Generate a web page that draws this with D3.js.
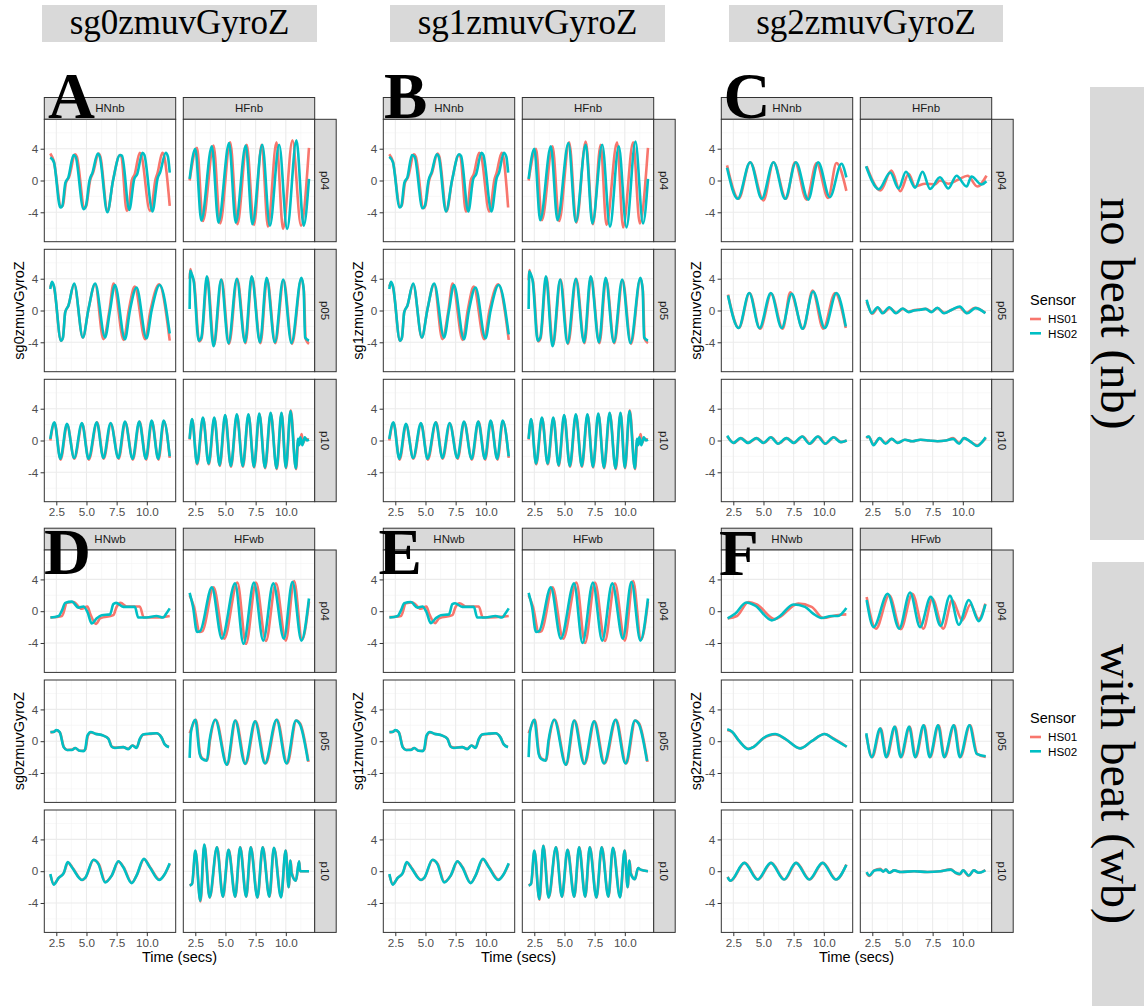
<!DOCTYPE html>
<html>
<head>
<meta charset="utf-8">
<script src="https://cdn.jsdelivr.net/npm/d3@7"></script>
<style>
  html, body { margin: 0; padding: 0; background: #ffffff; }
  svg { display: block; }
</style>
</head>
<body>
<svg id="chart" width="1144" height="1006"></svg>
<script>
// ---- categories and labels ----
const measures = ["sg0zmuvGyroZ", "sg1zmuvGyroZ", "sg2zmuvGyroZ"];
const panelLetters = [["A", "B", "C"], ["D", "E", "F"]];
const conditionLabels = ["no beat (nb)", "with beat (wb)"];
const facetsNb = ["HNnb", "HFnb"];
const facetsWb = ["HNwb", "HFwb"];
const participants = ["p04", "p05", "p10"];
const sensors = ["HS01", "HS02"];
const sensorColors = ["#F8766D", "#00BFC4"];
const timeTicks = [2.5, 5, 7.5, 10];
const valueTicks = [-4, 0, 4];

// ---- series: [facet, participant, HS01 [time, value], HS02 [time, value]] ----
const sg0_nb = [
  ["HNnb", "p04",
    [[2.0,3.4],[2.3,2.4],[2.9,-3.3],[3.05,-3.1],[3.3,-0.3],[3.55,0.4],[4.07,3.3],[4.2,3.0],[4.84,-3.5],[5.0,-3.1],[5.3,0],[5.55,1.0],[6.02,3.4],[6.15,3.0],[6.75,-3.9],[7.2,0],[7.78,3.2],[7.9,3.0],[8.33,-3.8],[8.5,-3.4],[8.75,0],[9.0,0.8],[9.42,3.5],[9.55,3.2],[10.25,-3.8],[10.4,-3.4],[10.7,0],[10.9,1.0],[11.29,3.5],[11.45,3.0],[11.9,-3.2]],
    [[2.0,2.9],[2.3,2.3],[2.83,-3.4],[3.0,-3.2],[3.25,-0.3],[3.5,0.4],[3.93,3.2],[4.1,3.0],[4.75,-3.6],[4.95,-3.2],[5.25,0],[5.5,1.0],[5.94,3.4],[6.1,3.0],[6.73,-4.0],[7.2,0],[7.78,3.2],[7.95,3.1],[8.55,-3.7],[8.96,0.2],[9.2,0.8],[9.64,3.5],[9.8,3.2],[10.47,-3.9],[10.9,0.3],[11.1,1.0],[11.57,3.5],[11.75,3.0],[11.9,1.0]]],
  ["HFnb", "p04",
    [[2.03,0],[2.64,4.1],[3.13,-5.1],[4.01,4.4],[4.56,-5.4],[5.39,4.8],[5.99,-5.5],[6.76,4.5],[7.36,-5.6],[8.0,4.5],[8.52,-5.8],[9.23,4.8],[9.77,-6.1],[10.55,5.05],[11.26,-5.7],[11.92,4.1]],
    [[2.03,0.2],[2.5,4.0],[3.0,-5.05],[3.87,4.3],[4.42,-5.3],[5.3,4.7],[5.85,-5.3],[6.68,4.4],[7.23,-5.5],[8.05,4.5],[8.68,-5.7],[9.45,4.5],[10.11,-6.1],[10.88,5.05],[11.48,-5.7],[11.92,0.2]]],
  ["HNnb", "p05",
    [[2.0,2.9],[2.14,3.5],[2.3,3.0],[2.89,-3.8],[3.05,-3.4],[3.24,-0.2],[3.5,0.6],[3.98,3.3],[4.7,-3.4],[5.17,0.2],[5.72,3.3],[6.4,-3.6],[6.9,0],[7.25,3.4],[8.08,-3.7],[8.5,0],[9.0,3.0],[9.86,-3.6],[10.3,0],[11.02,3.3],[11.9,-3.8]],
    [[2.0,2.7],[2.14,3.6],[2.3,3.1],[2.89,-3.8],[3.05,-3.4],[3.24,-0.2],[3.5,0.6],[3.98,3.4],[4.7,-3.4],[5.17,0.2],[5.72,3.4],[6.54,-3.4],[6.95,0],[7.36,3.2],[8.19,-3.6],[8.6,0],[9.15,2.9],[9.97,-3.5],[10.4,0],[11.07,3.2],[11.9,-2.9]]],
  ["HFnb", "p05",
    [[2.03,4.0],[2.09,5.2],[2.2,4.4],[2.4,3.6],[2.82,-3.9],[3.02,-3.5],[3.5,4.2],[4.05,-4.4],[4.68,3.9],[5.3,-4.2],[5.98,4.0],[6.66,-4.1],[7.2,4.2],[7.9,-4.1],[8.45,4.0],[9.13,-4.1],[9.82,3.8],[10.52,-4.2],[11.3,4.0],[11.5,2.5],[11.65,-3.6],[11.92,-4.2]],
    [[2.03,0.2],[2.09,5.0],[2.2,4.6],[2.36,3.8],[2.78,-3.8],[3.0,-3.4],[3.46,4.3],[4.01,-4.5],[4.64,3.9],[5.25,-4.1],[5.94,4.0],[6.62,-4.0],[7.17,4.3],[7.86,-4.0],[8.41,4.1],[9.09,-4.0],[9.78,3.9],[10.47,-4.1],[11.29,4.1],[11.48,2.7],[11.6,-3.4],[11.92,-3.8]]],
  ["HNnb", "p10",
    [[2.0,0.0],[2.36,2.2],[2.86,-2.4],[3.4,2.0],[4.0,-2.3],[4.65,2.1],[5.2,-2.4],[5.88,2.3],[6.43,-2.3],[7.03,2.1],[7.67,-2.3],[8.22,2.3],[8.85,-2.4],[9.4,2.4],[9.95,-2.4],[10.43,2.4],[10.97,-2.4],[11.43,2.4],[11.9,-2.2]],
    [[2.0,0.2],[2.34,2.3],[2.83,-2.3],[3.38,2.1],[3.98,-2.2],[4.62,2.2],[5.17,-2.3],[5.85,2.3],[6.4,-2.2],[7.0,2.2],[7.64,-2.2],[8.19,2.4],[8.82,-2.3],[9.37,2.4],[9.92,-2.3],[10.4,2.5],[10.94,-2.3],[11.4,2.5],[11.9,-2.0]]],
  ["HFnb", "p10",
    [[2.03,0.1],[2.25,2.6],[2.66,-3.0],[3.15,2.8],[3.62,-3.0],[4.09,2.8],[4.53,-3.2],[4.99,3.1],[5.46,-3.3],[5.96,3.2],[6.45,-3.3],[6.92,3.2],[7.38,-3.4],[7.82,3.3],[8.29,-3.5],[8.76,3.4],[9.25,-3.6],[9.66,3.4],[10.02,-3.5],[10.41,3.8],[10.85,-3.6],[11.04,0.0],[11.15,-0.5],[11.3,0.8],[11.45,-0.3],[11.6,0.2],[11.92,0.1]],
    [[2.03,0.2],[2.23,2.7],[2.64,-2.9],[3.13,2.9],[3.6,-2.9],[4.07,2.9],[4.51,-3.1],[4.97,3.2],[5.44,-3.2],[5.94,3.3],[6.43,-3.2],[6.9,3.3],[7.36,-3.3],[7.8,3.4],[8.27,-3.4],[8.74,3.5],[9.23,-3.5],[9.64,3.5],[10.0,-3.4],[10.39,3.7],[10.83,-3.5],[11.02,0.2],[11.1,-0.6],[11.2,0.4],[11.37,-0.6],[11.57,0.4],[11.75,0],[11.92,0.1]]]
];

const sg1_nb = [
  ["HNnb", "p04",
    [[2.0,3.3],[2.3,2.4],[2.9,-3.3],[3.05,-3.1],[3.3,-0.3],[3.55,0.4],[4.05,3.3],[4.2,3.0],[4.84,-3.5],[5.0,-3.1],[5.3,0],[5.55,1.0],[6.0,3.4],[6.15,3.0],[6.75,-3.9],[7.2,0],[7.78,3.2],[7.9,3.0],[8.35,-3.9],[8.5,-3.4],[8.75,0],[9.0,0.8],[9.45,3.5],[9.6,3.2],[10.28,-3.9],[10.4,-3.4],[10.7,0],[10.9,1.0],[11.32,3.5],[11.45,3.0],[11.85,-3.4]],
    [[2.0,3.0],[2.3,2.3],[2.86,-3.4],[3.0,-3.2],[3.25,-0.3],[3.5,0.4],[3.88,3.2],[4.1,3.0],[4.75,-3.5],[4.95,-3.2],[5.25,0],[5.5,1.0],[5.94,3.3],[6.1,3.0],[6.7,-3.9],[7.2,0],[7.78,3.3],[7.95,3.1],[8.55,-3.9],[8.96,0.2],[9.2,0.8],[9.64,3.5],[9.8,3.2],[10.47,-3.9],[10.9,0.3],[11.1,1.0],[11.49,3.5],[11.7,3.0],[11.85,1.0]]],
  ["HFnb", "p04",
    [[2.03,0],[2.64,4.0],[3.13,-5.0],[4.01,4.3],[4.56,-5.1],[5.39,4.8],[5.99,-5.3],[6.76,4.9],[7.36,-5.5],[8.0,4.5],[8.48,-5.6],[9.36,4.8],[9.86,-5.9],[10.69,4.8],[11.24,-5.4],[11.92,4.1]],
    [[2.03,0.2],[2.5,4.0],[2.99,-5.0],[3.87,4.3],[4.42,-5.0],[5.33,4.7],[5.94,-5.2],[6.76,4.5],[7.31,-5.4],[8.13,4.5],[8.77,-5.8],[9.5,4.3],[10.14,-5.9],[10.88,4.9],[11.51,-5.4],[11.92,0.2]]],
  ["HNnb", "p05",
    [[2.0,3.0],[2.14,3.5],[2.3,3.0],[2.89,-3.8],[3.05,-3.4],[3.24,-0.2],[3.5,0.6],[3.98,3.3],[4.7,-3.4],[5.17,0.2],[5.72,3.3],[6.4,-3.6],[6.9,0],[7.25,3.4],[8.08,-3.7],[8.5,0],[9.0,3.0],[9.86,-3.6],[10.3,0],[11.02,3.3],[11.9,-3.7]],
    [[2.0,2.7],[2.14,3.6],[2.3,3.1],[2.89,-3.8],[3.05,-3.4],[3.24,-0.2],[3.5,0.6],[3.98,3.4],[4.7,-3.4],[5.17,0.2],[5.72,3.4],[6.54,-3.4],[6.95,0],[7.36,3.2],[8.19,-3.6],[8.6,0],[9.15,2.9],[9.97,-3.5],[10.4,0],[11.07,3.2],[11.9,-3.0]]],
  ["HFnb", "p05",
    [[2.03,3.8],[2.09,5.1],[2.2,4.4],[2.4,3.6],[2.82,-3.9],[3.02,-3.5],[3.5,4.2],[4.05,-4.4],[4.68,3.9],[5.3,-4.2],[5.98,4.0],[6.66,-4.1],[7.2,4.2],[7.9,-4.1],[8.45,4.0],[9.13,-4.1],[9.82,3.8],[10.52,-4.2],[11.3,4.0],[11.5,2.5],[11.65,-3.6],[11.92,-4.1]],
    [[2.03,0.2],[2.09,4.9],[2.2,4.6],[2.36,3.8],[2.78,-3.8],[3.0,-3.4],[3.46,4.3],[4.01,-4.5],[4.64,3.9],[5.25,-4.1],[5.94,4.0],[6.62,-4.0],[7.17,4.3],[7.86,-4.0],[8.41,4.1],[9.09,-4.0],[9.78,3.9],[10.47,-4.1],[11.29,4.1],[11.48,2.7],[11.6,-3.4],[11.92,-3.8]]],
  ["HNnb", "p10",
    [[2.0,0.0],[2.36,2.2],[2.86,-2.4],[3.4,2.0],[4.0,-2.3],[4.65,2.1],[5.2,-2.4],[5.88,2.3],[6.43,-2.3],[7.03,2.1],[7.67,-2.3],[8.22,2.3],[8.85,-2.4],[9.4,2.4],[9.95,-2.4],[10.43,2.4],[10.97,-2.4],[11.43,2.4],[11.9,-2.2]],
    [[2.0,0.2],[2.34,2.3],[2.83,-2.3],[3.38,2.1],[3.98,-2.2],[4.62,2.2],[5.17,-2.3],[5.85,2.3],[6.4,-2.2],[7.0,2.2],[7.64,-2.2],[8.19,2.4],[8.82,-2.3],[9.37,2.4],[9.92,-2.3],[10.4,2.5],[10.94,-2.3],[11.4,2.5],[11.9,-2.0]]],
  ["HFnb", "p10",
    [[2.03,0.1],[2.25,2.6],[2.66,-3.0],[3.15,2.8],[3.62,-3.0],[4.09,2.8],[4.53,-3.2],[4.99,3.1],[5.46,-3.3],[5.96,3.2],[6.45,-3.3],[6.92,3.2],[7.38,-3.4],[7.82,3.3],[8.29,-3.5],[8.76,3.4],[9.25,-3.6],[9.66,3.4],[10.02,-3.5],[10.41,3.8],[10.85,-3.6],[11.04,0.0],[11.15,-0.5],[11.3,0.8],[11.45,-0.3],[11.6,0.2],[11.92,0.1]],
    [[2.03,0.2],[2.23,2.7],[2.64,-2.9],[3.13,2.9],[3.6,-2.9],[4.07,2.9],[4.51,-3.1],[4.97,3.2],[5.44,-3.2],[5.94,3.3],[6.43,-3.2],[6.9,3.3],[7.36,-3.3],[7.8,3.4],[8.27,-3.4],[8.74,3.5],[9.23,-3.5],[9.64,3.5],[10.0,-3.4],[10.39,3.7],[10.83,-3.5],[11.02,0.2],[11.1,-0.6],[11.2,0.4],[11.37,-0.6],[11.57,0.4],[11.75,0],[11.92,0.1]]]
];

const sg2_nb = [
  ["HNnb", "p04",
    [[1.98,1.9],[2.94,-2.3],[3.9,2.3],[5.0,-2.5],[5.83,2.3],[6.87,-2.3],[7.61,2.3],[8.57,-2.4],[9.4,2.2],[10.36,-2.2],[11.05,2.2],[11.87,-1.3]],
    [[1.98,1.6],[2.86,-2.3],[3.9,2.3],[4.86,-2.3],[5.83,2.3],[6.79,-2.3],[7.69,2.3],[8.71,-2.4],[9.53,2.3],[10.5,-2.1],[11.46,2.1],[11.87,0.4]]],
  ["HFnb", "p04",
    [[2.03,1.8],[3.18,-1.25],[4.08,1.25],[4.82,-1.35],[5.51,0.85],[6.05,-0.75],[6.88,-0.4],[7.7,-0.5],[8.1,0],[8.8,-0.4],[9.6,0.1],[10.4,0.6],[11.2,-0.75],[11.96,0.6]],
    [[1.98,1.8],[3.04,-1.1],[3.99,1.0],[4.68,-1.0],[5.29,1.1],[6.05,-0.9],[6.66,1.1],[7.29,-1.05],[8.11,0.4],[8.8,-1.0],[9.48,0.6],[10.31,-0.75],[10.72,0.5],[11.55,-0.5],[11.96,-0.1]]],
  ["HNnb", "p05",
    [[2.06,2.0],[2.97,-2.2],[3.85,2.2],[4.72,-2.3],[5.65,2.1],[6.6,-2.3],[7.22,2.3],[8.3,-2.3],[9.07,2.5],[9.96,-2.3],[10.93,2.2],[11.82,-2.2]],
    [[2.06,1.9],[2.94,-2.2],[3.82,2.2],[4.67,-2.2],[5.61,2.2],[6.51,-2.2],[7.34,2.1],[8.24,-2.3],[9.12,2.4],[10.08,-2.2],[11.05,2.2],[11.82,-2.0]]],
  ["HFnb", "p05",
    [[2.03,1.1],[2.2,0.4],[2.5,-0.4],[2.98,0.35],[3.4,-0.3],[3.95,0.3],[4.5,-0.3],[5.05,0.2],[5.5,-0.15],[6.0,0.05],[6.5,0.15],[6.95,0.2],[7.45,-0.15],[7.9,0.3],[8.48,-0.3],[9.1,0.1],[9.7,0.4],[10.3,-0.3],[11.0,0.35],[11.87,-0.3]],
    [[2.03,1.35],[2.17,0.6],[2.45,-0.35],[2.94,0.4],[3.35,-0.35],[3.9,0.4],[4.45,-0.35],[5.0,0.25],[5.5,-0.2],[5.96,0.0],[6.5,0.1],[6.9,0.2],[7.4,-0.2],[7.88,0.35],[8.43,-0.35],[9.1,0.1],[9.75,0.5],[10.36,-0.35],[11.05,0.3],[11.87,-0.35]]],
  ["HNnb", "p10",
    [[2.0,0.5],[2.55,-0.3],[3.15,0.3],[3.75,-0.3],[4.45,0.3],[5.05,-0.3],[5.65,0.4],[6.25,-0.4],[6.95,0.3],[7.55,-0.3],[8.25,0.5],[8.85,-0.4],[9.55,0.5],[10.15,-0.4],[10.85,0.4],[11.45,-0.2],[11.9,0.0]],
    [[2.0,0.6],[2.5,-0.3],[3.1,0.3],[3.7,-0.3],[4.4,0.3],[5.0,-0.3],[5.6,0.4],[6.2,-0.4],[6.9,0.3],[7.5,-0.3],[8.2,0.5],[8.8,-0.4],[9.5,0.5],[10.1,-0.4],[10.8,0.4],[11.4,-0.2],[11.9,0.0]]],
  ["HFnb", "p10",
    [[2.0,0.3],[2.2,0.5],[2.6,-0.5],[3.1,0.3],[3.6,-0.3],[4.1,0.2],[4.6,-0.3],[5.2,0.1],[5.8,-0.1],[6.5,0.1],[7.2,0.0],[7.9,-0.1],[8.6,0.0],[9.2,0.3],[9.7,-0.3],[10.1,0.3],[10.6,-0.1],[11.2,-0.6],[11.6,-0.2],[11.9,0.3]],
    [[2.0,0.4],[2.2,0.5],[2.6,-0.6],[3.1,0.3],[3.6,-0.4],[4.1,0.2],[4.6,-0.3],[5.2,0.1],[5.8,-0.1],[6.5,0.1],[7.2,0.0],[7.9,-0.1],[8.6,0.0],[9.2,0.2],[9.7,-0.4],[10.1,0.3],[10.6,-0.1],[11.2,-0.7],[11.6,-0.2],[11.9,0.4]]]
];

const sg0_wb = [
  ["HNwb", "p04",
    [[2.01,-0.8],[2.97,-0.6],[3.38,1.05],[3.93,1.15],[4.6,0.3],[5.08,0.6],[5.3,-0.3],[5.8,-1.6],[6.13,-0.9],[7.23,-0.5],[7.5,0.55],[7.83,1.05],[8.33,0.6],[9.42,0.6],[9.75,-0.8],[10.8,-0.8],[11.9,-0.6]],
    [[2.01,-0.8],[2.7,-0.6],[2.97,0.1],[3.24,1.05],[3.79,1.2],[4.34,0.45],[4.75,0.6],[5.08,-0.1],[5.44,-1.55],[5.85,-0.9],[6.27,-0.5],[6.95,-0.4],[7.23,0.9],[7.45,1.05],[8.05,0.55],[9.01,0.55],[9.29,-0.8],[9.97,-0.8],[10.8,-0.6],[11.35,-0.8],[11.62,-0.3],[11.9,0.35]]],
  ["HFwb", "p04",
    [[2.03,2.0],[2.4,0.5],[2.86,-2.6],[3.1,-2.5],[4.01,3.0],[4.89,-3.45],[5.99,3.6],[6.7,-4.1],[7.53,3.6],[8.35,-3.75],[9.18,3.5],[10.0,-3.7],[10.69,3.8],[11.35,-3.6],[11.92,1.2]],
    [[2.03,2.3],[2.31,0.55],[2.64,-2.6],[2.9,-2.5],[3.87,3.0],[4.7,-3.45],[5.8,3.5],[6.49,-4.1],[7.36,3.6],[8.13,-3.7],[8.96,3.5],[9.84,-3.45],[10.55,3.7],[11.29,-3.7],[11.92,1.6]]],
  ["HNwb", "p05",
    [[2.01,1.1],[2.28,1.2],[2.5,1.35],[2.8,1.1],[3.13,-0.75],[3.4,-1.1],[3.8,-1.05],[4.07,-0.85],[4.42,-1.2],[4.75,-1.2],[4.92,-1.0],[5.12,0.7],[5.38,1.1],[5.72,0.95],[6.4,0.7],[6.83,0.3],[7.11,-0.7],[7.38,-0.8],[8.05,-0.75],[8.46,-0.95],[8.82,-0.55],[9.15,-0.8],[9.45,0.3],[9.72,0.85],[10.25,0.9],[10.8,1.0],[11.21,0.5],[11.49,-0.4],[11.84,-0.7]],
    [[2.01,1.15],[2.28,1.15],[2.5,1.4],[2.78,1.15],[3.11,-0.75],[3.38,-1.1],[3.79,-1.1],[4.07,-0.85],[4.42,-1.2],[4.75,-1.25],[4.89,-1.0],[5.08,0.7],[5.36,1.15],[5.72,0.95],[6.4,0.7],[6.81,0.3],[7.09,-0.7],[7.36,-0.85],[8.05,-0.75],[8.46,-1.0],[8.82,-0.55],[9.15,-0.85],[9.42,0.3],[9.7,0.85],[10.25,0.95],[10.8,1.0],[11.21,0.5],[11.49,-0.4],[11.84,-0.75]]],
  ["HFwb", "p05",
    [[2.03,1.0],[2.18,1.6],[2.55,2.7],[2.9,-1.6],[3.1,-2.2],[3.5,-2.4],[3.72,0.1],[4.2,2.7],[5.15,-2.95],[5.85,2.6],[6.68,-2.85],[7.5,2.5],[8.33,-2.8],[9.28,2.7],[10.12,-2.8],[10.88,2.6],[11.2,2.2],[11.88,-2.6]],
    [[2.03,-2.1],[2.14,1.15],[2.5,2.7],[2.86,-1.6],[3.05,-2.2],[3.46,-2.45],[3.68,0.1],[4.15,2.7],[5.11,-2.95],[5.8,2.6],[6.62,-2.85],[7.45,2.5],[8.27,-2.8],[9.23,2.7],[10.06,-2.8],[10.83,2.6],[11.15,2.2],[11.84,-2.5]]],
  ["HNwb", "p10",
    [[2.01,-0.5],[2.3,-1.6],[2.72,-0.8],[3.13,-0.2],[3.47,1.1],[3.82,0.5],[4.65,-1.1],[4.92,-0.8],[5.6,1.4],[6.02,0.9],[6.57,-1.35],[7.11,-0.5],[7.66,1.2],[8.08,0.5],[8.76,-1.45],[9.17,-0.5],[9.78,1.5],[10.28,0.5],[11.05,-1.05],[11.52,-0.3],[11.9,0.9]],
    [[2.01,-0.35],[2.28,-1.7],[2.69,-0.85],[3.11,-0.25],[3.44,1.15],[3.79,0.5],[4.62,-1.1],[4.89,-0.85],[5.58,1.45],[5.99,0.9],[6.54,-1.4],[7.09,-0.55],[7.64,1.25],[8.05,0.5],[8.74,-1.5],[9.15,-0.55],[9.75,1.55],[10.25,0.5],[11.02,-1.1],[11.49,-0.35],[11.9,1.0]]],
  ["HFwb", "p10",
    [[2.03,-1.8],[2.25,-1.5],[2.52,2.5],[2.93,-3.8],[3.26,3.3],[3.7,-3.3],[4.31,3.0],[4.8,-3.2],[5.27,2.7],[5.82,-3.2],[6.23,3.0],[6.73,-3.2],[7.11,3.0],[7.66,-3.3],[8.1,3.0],[8.65,-3.2],[9.03,2.9],[9.62,-3.2],[10.0,2.6],[10.25,-2.0],[10.4,1.3],[10.5,-0.2],[10.85,-1.2],[11.1,1.2],[11.2,0.0],[11.92,0.0]],
    [[2.03,-1.8],[2.23,-1.6],[2.5,2.6],[2.91,-3.7],[3.24,3.35],[3.68,-3.3],[4.29,3.0],[4.78,-3.2],[5.25,2.7],[5.8,-3.2],[6.21,3.0],[6.71,-3.2],[7.09,3.0],[7.64,-3.3],[8.08,3.0],[8.63,-3.2],[9.01,2.95],[9.6,-3.3],[9.98,2.6],[10.23,-2.0],[10.38,1.35],[10.47,-0.25],[10.83,-1.2],[11.1,1.25],[11.18,0.0],[11.92,0.0]]]
];

const sg1_wb = [
  ["HNwb", "p04",
    [[2.01,-0.75],[2.97,-0.6],[3.38,1.0],[3.93,1.1],[4.6,0.3],[5.08,0.6],[5.3,-0.3],[5.8,-1.5],[6.13,-0.9],[7.23,-0.5],[7.5,0.55],[7.83,1.0],[8.33,0.6],[9.42,0.6],[9.75,-0.8],[10.8,-0.75],[11.9,-0.6]],
    [[2.01,-0.8],[2.7,-0.6],[2.97,0.1],[3.24,1.0],[3.79,1.15],[4.34,0.45],[4.75,0.6],[5.08,-0.1],[5.44,-1.5],[5.85,-0.9],[6.27,-0.5],[6.95,-0.4],[7.23,0.9],[7.45,1.0],[8.05,0.55],[9.01,0.55],[9.29,-0.8],[9.97,-0.8],[10.8,-0.6],[11.35,-0.8],[11.62,-0.3],[11.9,0.35]]],
  ["HFwb", "p04",
    [[2.03,2.0],[2.4,0.5],[2.86,-2.6],[3.1,-2.5],[4.01,3.0],[4.89,-3.45],[5.99,3.6],[6.7,-4.0],[7.53,3.6],[8.35,-3.75],[9.18,3.5],[10.0,-3.7],[10.69,3.8],[11.35,-3.6],[11.92,1.2]],
    [[2.03,2.3],[2.31,0.55],[2.64,-2.6],[2.9,-2.5],[3.87,3.0],[4.7,-3.45],[5.8,3.5],[6.49,-4.0],[7.36,3.6],[8.13,-3.7],[8.96,3.5],[9.84,-3.45],[10.55,3.7],[11.29,-3.7],[11.92,1.6]]],
  ["HNwb", "p05",
    [[2.01,1.1],[2.28,1.2],[2.5,1.35],[2.8,1.1],[3.13,-0.75],[3.4,-1.1],[3.8,-1.05],[4.07,-0.85],[4.42,-1.2],[4.75,-1.2],[4.92,-1.0],[5.12,0.7],[5.38,1.1],[5.72,0.95],[6.4,0.7],[6.83,0.3],[7.11,-0.7],[7.38,-0.8],[8.05,-0.75],[8.46,-0.95],[8.82,-0.55],[9.15,-0.8],[9.45,0.3],[9.72,0.85],[10.25,0.9],[10.8,1.0],[11.21,0.5],[11.49,-0.4],[11.84,-0.7]],
    [[2.01,1.15],[2.28,1.15],[2.5,1.4],[2.78,1.15],[3.11,-0.75],[3.38,-1.1],[3.79,-1.1],[4.07,-0.85],[4.42,-1.2],[4.75,-1.25],[4.89,-1.0],[5.08,0.7],[5.36,1.15],[5.72,0.95],[6.4,0.7],[6.81,0.3],[7.09,-0.7],[7.36,-0.85],[8.05,-0.75],[8.46,-1.0],[8.82,-0.55],[9.15,-0.85],[9.42,0.3],[9.7,0.85],[10.25,0.95],[10.8,1.0],[11.21,0.5],[11.49,-0.4],[11.84,-0.75]]],
  ["HFwb", "p05",
    [[2.03,1.0],[2.18,1.6],[2.55,2.7],[2.9,-1.6],[3.1,-2.2],[3.5,-2.4],[3.72,0.1],[4.2,2.7],[5.15,-2.95],[5.85,2.6],[6.68,-2.85],[7.5,2.5],[8.33,-2.8],[9.28,2.7],[10.12,-2.8],[10.88,2.6],[11.2,2.2],[11.88,-2.6]],
    [[2.03,-2.0],[2.14,1.15],[2.5,2.7],[2.86,-1.6],[3.05,-2.2],[3.46,-2.45],[3.68,0.1],[4.15,2.7],[5.11,-2.95],[5.8,2.6],[6.62,-2.85],[7.45,2.5],[8.27,-2.8],[9.23,2.7],[10.06,-2.8],[10.83,2.6],[11.15,2.2],[11.84,-2.5]]],
  ["HNwb", "p10",
    [[2.01,-0.5],[2.3,-1.6],[2.72,-0.8],[3.13,-0.2],[3.47,1.1],[3.82,0.5],[4.65,-1.1],[4.92,-0.8],[5.6,1.4],[6.02,0.9],[6.57,-1.35],[7.11,-0.5],[7.66,1.2],[8.08,0.5],[8.76,-1.45],[9.17,-0.5],[9.78,1.5],[10.28,0.5],[11.05,-1.05],[11.52,-0.3],[11.9,0.9]],
    [[2.01,-0.35],[2.28,-1.7],[2.69,-0.85],[3.11,-0.25],[3.44,1.15],[3.79,0.5],[4.62,-1.1],[4.89,-0.85],[5.58,1.45],[5.99,0.9],[6.54,-1.4],[7.09,-0.55],[7.64,1.25],[8.05,0.5],[8.74,-1.5],[9.15,-0.55],[9.75,1.55],[10.25,0.5],[11.02,-1.1],[11.49,-0.35],[11.9,1.0]]],
  ["HFwb", "p10",
    [[2.03,-1.8],[2.25,-1.5],[2.52,2.5],[2.93,-3.6],[3.26,3.2],[3.7,-3.3],[4.31,3.0],[4.8,-3.2],[5.27,2.7],[5.82,-3.2],[6.23,3.0],[6.73,-3.2],[7.11,3.0],[7.66,-3.3],[8.1,3.0],[8.65,-3.2],[9.03,2.9],[9.62,-3.2],[10.0,2.6],[10.25,-2.0],[10.4,1.3],[10.5,-0.2],[10.85,-1.0],[11.1,0.4],[11.3,0.2],[11.92,0.0]],
    [[2.03,-1.8],[2.23,-1.6],[2.5,2.6],[2.91,-3.5],[3.24,3.2],[3.68,-3.3],[4.29,3.0],[4.78,-3.2],[5.25,2.7],[5.8,-3.2],[6.21,3.0],[6.71,-3.2],[7.09,3.0],[7.64,-3.3],[8.08,3.0],[8.63,-3.2],[9.01,2.95],[9.6,-3.3],[9.98,2.6],[10.23,-2.0],[10.38,1.35],[10.47,-0.25],[10.83,-1.0],[11.1,0.4],[11.3,0.2],[11.92,0.0]]]
];

const sg2_wb = [
  ["HNwb", "p04",
    [[2.03,-0.9],[2.8,-0.6],[3.77,1.15],[4.45,0.85],[5.96,-1.0],[7.89,0.95],[8.99,0.55],[9.95,-0.85],[11.05,-0.5],[11.87,-0.4]],
    [[2.03,-0.9],[2.67,-0.3],[3.57,1.1],[4.31,0.7],[5.69,-1.15],[6.37,-0.6],[7.47,0.85],[8.44,0.55],[9.12,-0.3],[9.81,-0.85],[10.63,-0.6],[11.18,-0.6],[11.87,0.4]]],
  ["HFwb", "p04",
    [[2.03,1.8],[2.8,-2.2],[3.9,2.0],[4.86,-2.25],[5.82,2.2],[6.73,-2.2],[7.47,1.6],[8.38,-2.2],[9.12,1.4],[9.95,-1.15],[10.63,0.85],[11.32,-1.0],[11.87,0.95]],
    [[2.03,1.4],[2.61,-2.0],[3.77,2.2],[4.73,-2.2],[5.63,2.35],[6.46,-2.0],[7.34,1.8],[8.16,-1.85],[8.93,1.95],[9.67,-1.7],[10.5,1.4],[11.32,-1.25],[11.87,0.85]]],
  ["HNwb", "p05",
    [[2.0,1.4],[2.4,1.15],[3.0,0.0],[3.75,-0.95],[4.2,-0.7],[5.0,0.35],[5.97,0.85],[6.8,0.3],[8.03,-0.9],[9.0,0.0],[10.07,0.9],[10.8,0.35],[11.9,-0.7]],
    [[2.0,1.5],[2.4,1.2],[3.0,0.0],[3.75,-1.0],[4.2,-0.7],[5.0,0.4],[5.97,0.9],[6.8,0.3],[8.03,-0.9],[9.0,0.0],[10.07,0.9],[10.8,0.3],[11.9,-0.7]]],
  ["HFwb", "p05",
    [[2.0,0.8],[2.5,-2.0],[3.2,1.6],[3.7,-2.0],[4.4,1.8],[4.9,-2.0],[5.6,1.8],[6.1,-2.0],[6.8,2.0],[7.3,-2.0],[8.0,2.0],[8.5,-2.0],[9.3,2.0],[9.8,-2.0],[10.6,2.0],[11.2,-1.6],[11.9,-2.0]],
    [[2.0,1.0],[2.45,-2.0],[3.15,1.6],[3.65,-2.0],[4.35,1.8],[4.85,-2.0],[5.55,1.8],[6.05,-2.0],[6.75,2.0],[7.25,-2.0],[7.95,2.0],[8.45,-2.0],[9.25,2.0],[9.75,-2.0],[10.55,2.0],[11.15,-1.6],[11.9,-1.9]]],
  ["HNwb", "p10",
    [[2.03,-0.7],[2.28,-1.2],[3.45,1.05],[4.55,-1.05],[5.65,1.05],[6.74,-1.05],[7.73,1.05],[8.83,-1.05],[9.93,1.05],[11.03,-1.05],[11.87,0.85]],
    [[2.03,-0.75],[2.25,-1.2],[3.41,1.05],[4.51,-1.05],[5.61,1.05],[6.7,-1.05],[7.69,1.05],[8.79,-1.05],[9.89,1.05],[10.99,-1.05],[11.87,0.8]]],
  ["HFwb", "p10",
    [[2.03,-0.2],[2.25,-0.6],[2.67,0.1],[3.16,0.3],[3.4,0.0],[3.63,0.2],[3.9,-0.2],[4.32,0.1],[4.86,-0.1],[5.96,0],[7.06,-0.1],[8.16,0],[8.99,0.25],[9.4,-0.2],[9.75,-0.4],[10.03,0.1],[10.5,-0.6],[10.91,0.1],[11.32,-0.2],[11.87,0.15]],
    [[2.03,-0.1],[2.25,-0.55],[2.67,0.1],[3.16,0.2],[3.4,-0.05],[3.63,0.2],[3.9,-0.2],[4.32,0.1],[4.86,-0.1],[5.96,0],[7.06,-0.1],[8.16,0],[8.99,0.2],[9.4,-0.2],[9.75,-0.35],[10.03,0.1],[10.5,-0.55],[10.91,0.1],[11.32,-0.2],[11.87,0.1]]]
];

// ---- layout ----
const SANS = "'Liberation Sans', Arial, Helvetica, sans-serif";
const SERIF = "'Liberation Serif', 'Times New Roman', Times, serif";
const panelLeft = [44.3, 383.3, 721.3];
const colW = 131.4, colStep = 139;
const stripH = 21.8, rowStripW = 21.5;
const rowH = 122.4, rowStep = 130;
const blockStripTop = [97.5, 528.2];
const letterPos = [[[48, 118.3], [384, 118.3], [723.5, 118.3]], [[44, 573.5], [378.5, 574], [719, 574.5]]];
const xDomain = [1.505, 12.395];
const yDomain = [-7.7, 7.7];
const minorX = [3.75, 6.25, 8.75, 11.25];
const minorY = [-6, -2, 2, 6];

const blocks = [
  { facets: facetsNb, data: [sg0_nb, sg1_nb, sg2_nb] },
  { facets: facetsWb, data: [sg0_wb, sg1_wb, sg2_wb] }
];

const svg = d3.select("#chart");
svg.append("rect").attr("width", 1144).attr("height", 1006).attr("fill", "#ffffff");

// measure headers across the top
const headerBoxes = [[42, 317], [390, 665], [729, 1003]];
measures.forEach((m, i) => {
  const [x0, x1] = headerBoxes[i];
  svg.append("rect").attr("x", x0).attr("y", 5).attr("width", x1 - x0).attr("height", 37).attr("fill", "#D9D9D9");
  svg.append("text").attr("x", (x0 + x1) / 2).attr("y", 33.5)
    .attr("text-anchor", "middle").attr("font-family", SERIF).attr("font-size", 35).attr("fill", "#000")
    .text(m);
});

// condition bands on the right
const bandBoxes = [[1090, 87, 540], [1092, 562, 1006]];
conditionLabels.forEach((lab, i) => {
  const [bx, by0, by1] = bandBoxes[i];
  svg.append("rect").attr("x", bx).attr("y", by0).attr("width", 1144 - bx).attr("height", by1 - by0).attr("fill", "#D9D9D9");
  svg.append("text").attr("transform", `translate(1100.5,${(by0 + by1) / 2}) rotate(90)`)
    .attr("text-anchor", "middle").attr("font-family", SERIF).attr("font-size", 48).attr("fill", "#000")
    .text(lab);
});

const line = d3.line().curve(d3.curveMonotoneX);
let clipId = 0;

blocks.forEach((blk, b) => {
  const stripTop = blockStripTop[b];
  const plotTop = stripTop + stripH;
  blk.data.forEach((records, p) => {
    const left = panelLeft[p];
    const g = svg.append("g");

    blk.facets.forEach((facet, c) => {
      const x0 = left + c * colStep;
      const x = d3.scaleLinear().domain(xDomain).range([x0, x0 + colW]);

      // column strip
      g.append("rect").attr("x", x0).attr("y", stripTop).attr("width", colW).attr("height", stripH)
        .attr("fill", "#D9D9D9").attr("stroke", "#333333").attr("stroke-width", 1);
      g.append("text").attr("x", x0 + colW / 2).attr("y", stripTop + stripH / 2 + 4)
        .attr("text-anchor", "middle").attr("font-family", SANS).attr("font-size", 11.5).attr("fill", "#1A1A1A")
        .text(facet);

      participants.forEach((pid, r) => {
        const y0 = plotTop + r * rowStep;
        const y = d3.scaleLinear().domain(yDomain).range([y0 + rowH, y0]);
        const cell = g.append("g");
        cell.append("rect").attr("x", x0).attr("y", y0).attr("width", colW).attr("height", rowH).attr("fill", "#ffffff");

        // grid
        const grid = cell.append("g").attr("fill", "none");
        minorX.forEach(t => grid.append("line").attr("x1", x(t)).attr("x2", x(t)).attr("y1", y0).attr("y2", y0 + rowH).attr("stroke", "#F2F2F2").attr("stroke-width", 0.55));
        minorY.forEach(v => grid.append("line").attr("x1", x0).attr("x2", x0 + colW).attr("y1", y(v)).attr("y2", y(v)).attr("stroke", "#F2F2F2").attr("stroke-width", 0.55));
        timeTicks.forEach(t => grid.append("line").attr("x1", x(t)).attr("x2", x(t)).attr("y1", y0).attr("y2", y0 + rowH).attr("stroke", "#EBEBEB").attr("stroke-width", 1.07));
        valueTicks.forEach(v => grid.append("line").attr("x1", x0).attr("x2", x0 + colW).attr("y1", y(v)).attr("y2", y(v)).attr("stroke", "#EBEBEB").attr("stroke-width", 1.07));

        // series
        const id = "clip" + (clipId++);
        cell.append("clipPath").attr("id", id).append("rect").attr("x", x0).attr("y", y0).attr("width", colW).attr("height", rowH);
        const rec = records.find(d => d[0] === facet && d[1] === pid);
        const lines = cell.append("g").attr("clip-path", `url(#${id})`);
        sensors.forEach((s, k) => {
          lines.append("path")
            .datum(rec[2 + k])
            .attr("d", line.x(d => x(d[0])).y(d => y(d[1])))
            .attr("fill", "none").attr("stroke", sensorColors[k]).attr("stroke-width", 2.6)
            .attr("stroke-linejoin", "round").attr("stroke-linecap", "butt");
        });

        // panel border
        cell.append("rect").attr("x", x0).attr("y", y0).attr("width", colW).attr("height", rowH)
          .attr("fill", "none").attr("stroke", "#333333").attr("stroke-width", 1);

        // row strip
        if (c === 1) {
          const sx = x0 + colW;
          g.append("rect").attr("x", sx).attr("y", y0).attr("width", rowStripW).attr("height", rowH)
            .attr("fill", "#D9D9D9").attr("stroke", "#333333").attr("stroke-width", 1);
          g.append("text").attr("transform", `translate(${sx + rowStripW / 2 - 4},${y0 + rowH / 2}) rotate(90)`)
            .attr("text-anchor", "middle").attr("font-family", SANS).attr("font-size", 11.5).attr("fill", "#1A1A1A")
            .text(pid);
        }

        // value axis
        if (c === 0) {
          const ax = g.append("g").attr("transform", `translate(${x0},0)`)
            .call(d3.axisLeft(y).tickValues(valueTicks).tickSize(3.7).tickPadding(2.3).tickFormat(d => String(d)));
          ax.select(".domain").remove();
          ax.selectAll(".tick line").attr("stroke", "#333333").attr("stroke-width", 1);
          ax.selectAll(".tick text").attr("fill", "#4D4D4D").attr("font-family", SANS).attr("font-size", 11.7);
        }

        // time axis
        if (r === participants.length - 1) {
          const ax = g.append("g").attr("transform", `translate(0,${y0 + rowH})`)
            .call(d3.axisBottom(x).tickValues(timeTicks).tickSize(3.7).tickPadding(2.3).tickFormat(d3.format(".1f")));
          ax.select(".domain").remove();
          ax.selectAll(".tick line").attr("stroke", "#333333").attr("stroke-width", 1);
          ax.selectAll(".tick text").attr("fill", "#4D4D4D").attr("font-family", SANS).attr("font-size", 11.7);
        }
      });
    });

    // value axis title
    const midY = plotTop + (2 * rowStep + rowH) / 2;
    g.append("text").attr("transform", `translate(${left - 20.3},${midY}) rotate(-90)`)
      .attr("text-anchor", "middle").attr("font-family", SANS).attr("font-size", 14.5).attr("fill", "#000")
      .text(measures[p]);

    // time axis title (bottom block only)
    if (b === 1) {
      g.append("text").attr("x", left + (colStep + colW) / 2).attr("y", 962)
        .attr("text-anchor", "middle").attr("font-family", SANS).attr("font-size", 14.5).attr("fill", "#000")
        .text("Time (secs)");
    }

    // panel letter
    const [lx, ly] = letterPos[b][p];
    svg.append("text").attr("x", lx).attr("y", ly)
      .attr("font-family", SERIF).attr("font-weight", "bold").attr("font-size", 65).attr("fill", "#000")
      .text(panelLetters[b][p]);
  });

  // legend
  const lgY = b === 0 ? 0 : 418;
  const lg = svg.append("g");
  lg.append("text").attr("x", 1030).attr("y", 305 + lgY).attr("font-family", SANS).attr("font-size", 14.5).attr("fill", "#000").text("Sensor");
  sensors.forEach((s, k) => {
    const ky = 319 + k * 14.3 + lgY;
    lg.append("line").attr("x1", 1030).attr("x2", 1041).attr("y1", ky).attr("y2", ky)
      .attr("stroke", sensorColors[k]).attr("stroke-width", 2.6);
    lg.append("text").attr("x", 1048).attr("y", ky + 4.2).attr("font-family", SANS).attr("font-size", 11.7).attr("fill", "#000").text(s);
  });
});
</script>
</body>
</html>
